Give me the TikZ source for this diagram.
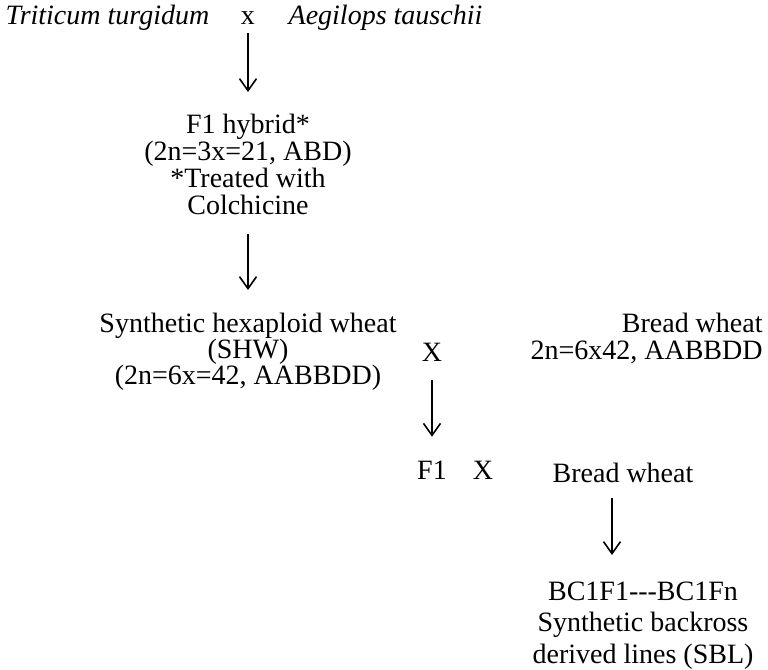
\documentclass[tikz,border=0pt]{standalone}
\usepackage{fontspec}
\setmainfont{Liberation Serif}
\usetikzlibrary{arrows.meta,positioning}

\begin{document}
\begin{tikzpicture}[x=0.5pt,y=-0.5pt,
    every node/.style={inner sep=0pt,font=\fontsize{14}{13.5}\selectfont},
    arr/.style={line width=0.8pt,-{Straight Barb[length=6pt,width=8.5pt]}}]
  \useasboundingbox (0,0) rectangle (768,670);
  \node (turg) at (107.5,18) {\itshape Triticum turgidum};
  \node (cross1) at (248,18) {x};
  \node (taus) at (385.5,18) {\itshape Aegilops tauschii};
  \node[align=center,anchor=north] (hybrid) at (248,114)
    {F1 hybrid*\\(2n=3x=21, ABD)\\*Treated with\\Colchicine};
  \node[align=center,anchor=north,font=\fontsize{14}{13}\selectfont] (shw) at (248,312.5)
    {Synthetic hexaploid wheat\\(SHW)\\(2n=6x=42, AABBDD)};
  \node (cross2) at (432,352) {X};
  \node[align=right,anchor=north east] (bread1) at (763,312.5)
    {Bread wheat\\2n=6x42, AABBDD};
  \node (f1) at (432,470) {F1};
  \node (cross3) at (483,470) {X};
  \node (bread2) at (623,473) {Bread wheat};
  \node[align=center,anchor=north,font=\fontsize{14}{15.75}\selectfont] (sbl) at (643,581.5)
    {BC1F1-{}-{}-BC1Fn\\Synthetic backross\\derived lines (SBL)};
  \coordinate (breadfoot) at ([xshift=-5.5pt]bread2.south);
  \draw[arr,shorten <=4.3pt,shorten >=11pt] (cross1) -- (hybrid);
  \draw[arr,shorten <=9pt,shorten >=11.25pt] (hybrid) -- (shw);
  \draw[arr,shorten <=9.3pt,shorten >=11.8pt] (cross2.south) -- (f1.north);
  \draw[arr,shorten <=7.25pt,shorten >=13.25pt] (breadfoot) -- (breadfoot |- sbl.north);
\end{tikzpicture}
\end{document}
